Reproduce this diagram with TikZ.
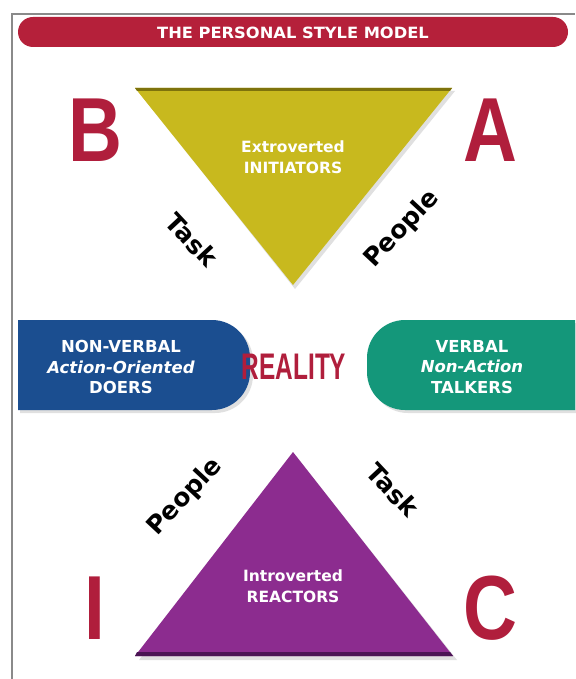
\documentclass[tikz,border=0pt]{standalone}
\usepackage{fontspec}
\setmainfont{Liberation Sans}
\newfontfamily\dejabold{DejaVu Sans}
\definecolor{bannerred}{HTML}{B5203A}
\definecolor{letterred}{HTML}{B01E3C}
\definecolor{tyellow}{HTML}{C8B91E}
\definecolor{tyellowdark}{HTML}{7E730C}
\definecolor{tpurple}{HTML}{8C2C8F}
\definecolor{tpurpledark}{HTML}{4B1454}
\definecolor{boxblue}{HTML}{1B4E90}
\definecolor{boxgreen}{HTML}{14977A}
\definecolor{framegray}{HTML}{8A8A8A}
\tikzset{
  bigletter/.style={text=letterred, font=\fontsize{91}{91}\selectfont\bfseries, xscale=0.82, inner sep=0pt},
  axislabel/.style={font=\dejabold\fontsize{25}{25}\selectfont\bfseries, text=black, inner sep=0pt},
  inlabel/.style={font=\dejabold\fontsize{15.5}{21}\selectfont\bfseries, text=white, align=center, inner sep=0pt},
  boxlabel/.style={font=\dejabold\fontsize{16.5}{20.5}\selectfont\bfseries, text=white, align=center, inner sep=0pt},
}
\begin{document}
\begin{tikzpicture}[x=1pt,y=-1pt]
\useasboundingbox (0,0) rectangle (575,679);
\fill[white] (0,0) rectangle (575,679);
% frame
\draw[framegray, line width=1.2pt] (12,679) -- (12,14) -- (575,14);
% banner
\fill[bannerred, rounded corners=15] (18,17) rectangle (568,47);
\node[font=\dejabold\fontsize{15.5}{15.5}\selectfont\bfseries, text=white, xscale=1.05] (title) at (293,32.5) {THE PERSONAL STYLE MODEL};
% yellow triangle
\fill[black!12] (138,91) -- (455,91) -- (295,289) -- cycle;
\fill[tyellow] (135,88) -- (452,88) -- (293,285) -- cycle;
\fill[tyellowdark] (135,88) -- (452,88) -- (450,91) -- (137,91) -- cycle;
\node[inlabel] (initiators) at (293,157) {Extroverted\\INITIATORS};
% letters top
\node[bigletter] (B) at (95,130) {B};
\node[bigletter] (A) at (490,130) {A};
% axis labels top
\node[axislabel, rotate=-47] (task1) at (192,240) {Task};
\node[axislabel, rotate=47] (people1) at (402,229) {People};
% blue box
\fill[black!12] (20,323) [rounded corners=38] -- (253,323) -- (253,413) [sharp corners] -- (20,413) -- cycle;
\fill[boxblue] (18,320) [rounded corners=38] -- (250,320) -- (250,410) [sharp corners] -- (18,410) -- cycle;
\node[boxlabel] (doers) at (121,367) {NON-VERBAL\\\itshape Action-Oriented\\DOERS};
% green box
\fill[black!12] (578,323) [rounded corners=38] -- (370,323) -- (370,413) [sharp corners] -- (578,413) -- cycle;
\fill[boxgreen] (575,320) [rounded corners=38] -- (367,320) -- (367,410) [sharp corners] -- (575,410) -- cycle;
\node[boxlabel] (talkers) at (472,367) {VERBAL\\\itshape Non-Action\\TALKERS};
% reality
\node[font=\fontsize{37}{37}\selectfont\bfseries, text=letterred, xscale=0.66, inner sep=0pt] (reality) at (294,367) {REALITY};
% purple triangle
\fill[black!12] (296,456) -- (457,660) -- (139,660) -- cycle;
\fill[tpurple] (293,452) -- (453,656) -- (135,656) -- cycle;
\fill[tpurpledark] (137,652) -- (450,652) -- (453,656) -- (135,656) -- cycle;
\node[inlabel] (reactors) at (293,586) {Introverted\\REACTORS};
% letters bottom
\node[bigletter] (I) at (95,608) {I};
\node[bigletter] (C) at (490,608) {C};
% axis labels bottom
\node[axislabel, rotate=47] (people2) at (185,497) {People};
\node[axislabel, rotate=-47] (task2) at (393,490) {Task};
\end{tikzpicture}
\end{document}
